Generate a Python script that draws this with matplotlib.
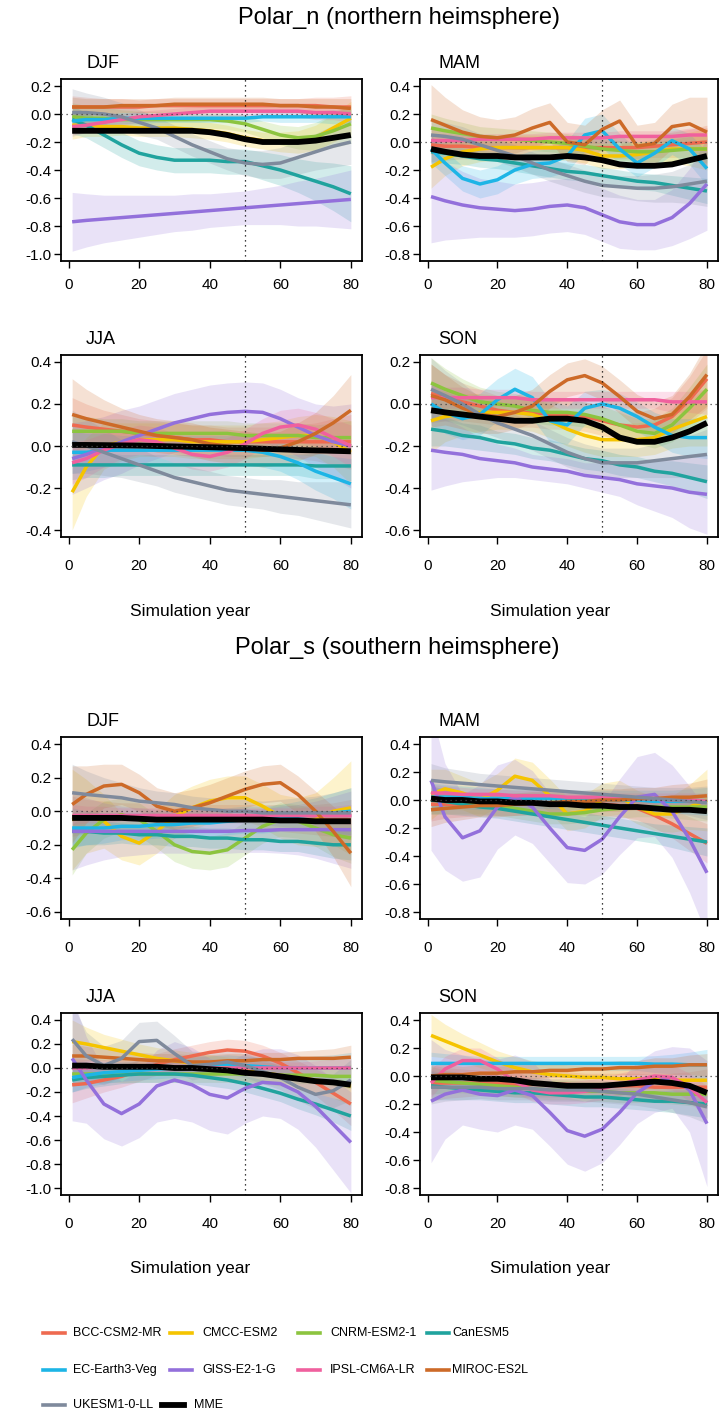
import matplotlib
matplotlib.use("Agg")
import matplotlib.pyplot as plt
from matplotlib.lines import Line2D
import numpy as np

plt.rcParams['font.family'] = ['Liberation Sans', 'DejaVu Sans']

W, H = 719, 1417

years = [1, 5, 10, 15, 20, 25, 30, 35, 40, 45, 50, 55, 60, 65, 70, 75, 80]
models = ["BCC-CSM2-MR", "CMCC-ESM2", "CNRM-ESM2-1", "CanESM5", "EC-Earth3-Veg",
          "GISS-E2-1-G", "IPSL-CM6A-LR", "MIROC-ES2L", "UKESM1-0-LL", "MME"]
colors = ["#EE6A50", "#F5C400", "#8CC43F", "#20A39E", "#1DB5E6",
          "#9370DB", "#F0609E", "#CD6A28", "#7F8A9C", "#000000"]
seasons = ["DJF", "MAM", "JJA", "SON"]
xticks = [0, 20, 40, 60, 80]

# ---------------- Polar_n ----------------
n_djf_mean = {
    "BCC-CSM2-MR": [0.05,0.05,0.05,0.05,0.05,0.06,0.06,0.06,0.06,0.06,0.06,0.06,0.06,0.06,0.06,0.05,0.05],
    "CMCC-ESM2": [-0.08,-0.08,-0.09,-0.09,-0.10,-0.10,-0.10,-0.11,-0.12,-0.14,-0.17,-0.19,-0.20,-0.20,-0.17,-0.10,-0.03],
    "CNRM-ESM2-1": [-0.02,-0.03,-0.03,-0.04,-0.04,-0.04,-0.04,-0.04,-0.04,-0.05,-0.07,-0.11,-0.15,-0.17,-0.16,-0.12,-0.07],
    "CanESM5": [-0.04,-0.08,-0.15,-0.22,-0.28,-0.31,-0.33,-0.33,-0.33,-0.34,-0.34,-0.37,-0.40,-0.44,-0.48,-0.52,-0.57],
    "EC-Earth3-Veg": [-0.05,-0.04,-0.04,-0.03,-0.03,-0.03,-0.03,-0.03,-0.03,-0.03,-0.03,-0.02,-0.02,-0.02,-0.02,-0.02,-0.02],
    "GISS-E2-1-G": [-0.77,-0.76,-0.75,-0.74,-0.73,-0.72,-0.71,-0.70,-0.69,-0.68,-0.67,-0.66,-0.65,-0.64,-0.63,-0.62,-0.61],
    "IPSL-CM6A-LR": [-0.09,-0.08,-0.06,-0.04,-0.02,-0.01,0.00,0.01,0.02,0.02,0.02,0.02,0.02,0.02,0.01,0.01,0.00],
    "MIROC-ES2L": [0.05,0.05,0.05,0.06,0.06,0.06,0.07,0.07,0.07,0.07,0.07,0.07,0.06,0.06,0.05,0.05,0.04],
    "UKESM1-0-LL": [0.01,0.01,0.00,-0.02,-0.06,-0.10,-0.16,-0.22,-0.27,-0.32,-0.35,-0.36,-0.35,-0.31,-0.27,-0.23,-0.20],
    "MME": [-0.12,-0.12,-0.12,-0.12,-0.12,-0.12,-0.12,-0.12,-0.13,-0.15,-0.18,-0.20,-0.20,-0.20,-0.19,-0.17,-0.15],
}
n_djf_hw = {
    "BCC-CSM2-MR": [0.08,0.07,0.06,0.06,0.05,0.05,0.05,0.05,0.05,0.05,0.05,0.05,0.05,0.05,0.06,0.07,0.08],
    "CMCC-ESM2": [0.10,0.08,0.07,0.06,0.06,0.06,0.06,0.06,0.06,0.06,0.06,0.06,0.07,0.08,0.09,0.10,0.12],
    "CNRM-ESM2-1": [0.10,0.09,0.08,0.07,0.06,0.06,0.06,0.06,0.06,0.06,0.06,0.06,0.07,0.08,0.10,0.12,0.14],
    "CanESM5": [0.10,0.09,0.09,0.09,0.09,0.09,0.09,0.09,0.09,0.09,0.09,0.10,0.11,0.12,0.14,0.17,0.20],
    "EC-Earth3-Veg": [0.05,0.04,0.04,0.04,0.04,0.03,0.03,0.03,0.03,0.03,0.03,0.03,0.04,0.04,0.04,0.05,0.05],
    "GISS-E2-1-G": [0.21,0.19,0.17,0.16,0.15,0.14,0.13,0.13,0.12,0.12,0.12,0.13,0.14,0.16,0.17,0.19,0.21],
    "IPSL-CM6A-LR": [0.06,0.05,0.05,0.04,0.04,0.04,0.04,0.04,0.04,0.04,0.04,0.04,0.04,0.04,0.05,0.05,0.06],
    "MIROC-ES2L": [0.07,0.06,0.06,0.05,0.05,0.05,0.05,0.05,0.05,0.05,0.05,0.05,0.05,0.05,0.06,0.06,0.07],
    "UKESM1-0-LL": [0.17,0.14,0.12,0.10,0.09,0.08,0.08,0.08,0.08,0.08,0.09,0.10,0.11,0.12,0.13,0.15,0.16],
}

n_mam_mean = {
    "BCC-CSM2-MR": [-0.02,-0.03,-0.03,-0.04,-0.04,-0.04,-0.04,-0.04,-0.04,-0.04,-0.04,-0.04,-0.04,-0.03,-0.02,-0.01,0.00],
    "CMCC-ESM2": [-0.18,-0.12,-0.07,-0.05,-0.04,-0.04,-0.04,-0.04,-0.04,-0.06,-0.10,-0.10,-0.09,-0.07,-0.05,-0.05,-0.05],
    "CNRM-ESM2-1": [0.10,0.08,0.06,0.04,0.03,0.02,0.01,0.00,-0.01,-0.03,-0.05,-0.06,-0.07,-0.07,-0.06,-0.05,-0.05],
    "CanESM5": [-0.07,-0.08,-0.10,-0.12,-0.13,-0.15,-0.17,-0.19,-0.21,-0.22,-0.24,-0.26,-0.28,-0.29,-0.31,-0.33,-0.35],
    "EC-Earth3-Veg": [-0.05,-0.15,-0.26,-0.30,-0.27,-0.20,-0.16,-0.15,-0.10,0.05,0.08,-0.05,-0.15,-0.08,0.01,-0.05,-0.19],
    "GISS-E2-1-G": [-0.39,-0.42,-0.45,-0.47,-0.48,-0.49,-0.48,-0.46,-0.45,-0.47,-0.52,-0.57,-0.59,-0.59,-0.54,-0.44,-0.30],
    "IPSL-CM6A-LR": [0.01,0.01,0.01,0.02,0.02,0.02,0.02,0.03,0.03,0.03,0.03,0.04,0.04,0.04,0.04,0.05,0.05],
    "MIROC-ES2L": [0.16,0.12,0.07,0.04,0.03,0.05,0.10,0.14,0.00,-0.02,0.09,0.15,-0.03,-0.01,0.11,0.13,0.07],
    "UKESM1-0-LL": [0.05,0.04,0.02,-0.02,-0.06,-0.10,-0.15,-0.20,-0.24,-0.28,-0.31,-0.32,-0.33,-0.33,-0.32,-0.30,-0.28],
    "MME": [-0.05,-0.07,-0.09,-0.10,-0.10,-0.11,-0.11,-0.11,-0.10,-0.11,-0.13,-0.16,-0.17,-0.17,-0.16,-0.13,-0.10],
}
n_mam_hw = {
    "BCC-CSM2-MR": [0.12,0.10,0.09,0.08,0.08,0.08,0.08,0.08,0.08,0.08,0.08,0.08,0.08,0.08,0.09,0.10,0.12],
    "CMCC-ESM2": [0.15,0.12,0.10,0.09,0.09,0.09,0.09,0.09,0.09,0.09,0.09,0.09,0.09,0.09,0.10,0.12,0.15],
    "CNRM-ESM2-1": [0.10,0.09,0.08,0.07,0.07,0.07,0.07,0.07,0.07,0.07,0.07,0.07,0.07,0.07,0.08,0.09,0.10],
    "CanESM5": [0.08,0.07,0.06,0.06,0.06,0.06,0.06,0.06,0.06,0.06,0.06,0.06,0.06,0.06,0.07,0.08,0.09],
    "EC-Earth3-Veg": [0.10,0.09,0.09,0.10,0.10,0.10,0.10,0.10,0.11,0.12,0.12,0.11,0.10,0.10,0.10,0.11,0.12],
    "GISS-E2-1-G": [0.33,0.28,0.24,0.21,0.20,0.19,0.19,0.19,0.19,0.19,0.19,0.19,0.18,0.18,0.20,0.25,0.33],
    "IPSL-CM6A-LR": [0.05,0.05,0.04,0.04,0.04,0.04,0.04,0.04,0.04,0.04,0.04,0.04,0.04,0.04,0.04,0.05,0.05],
    "MIROC-ES2L": [0.25,0.20,0.16,0.14,0.13,0.13,0.14,0.14,0.14,0.14,0.14,0.15,0.15,0.15,0.16,0.19,0.25],
    "UKESM1-0-LL": [0.12,0.10,0.09,0.08,0.08,0.08,0.08,0.08,0.08,0.08,0.08,0.08,0.09,0.10,0.11,0.14,0.18],
}

n_jja_mean = {
    "BCC-CSM2-MR": [0.10,0.09,0.08,0.07,0.06,0.05,0.04,0.03,0.03,0.02,0.02,0.02,0.02,0.02,0.02,0.02,0.02],
    "CMCC-ESM2": [-0.22,-0.10,0.00,0.02,0.03,0.03,0.03,0.02,0.02,0.02,0.02,0.03,0.04,0.05,0.05,0.02,-0.03],
    "CNRM-ESM2-1": [0.07,0.07,0.07,0.07,0.06,0.06,0.06,0.06,0.06,0.06,0.05,0.05,0.05,0.05,0.04,0.04,0.04],
    "CanESM5": [-0.09,-0.09,-0.09,-0.09,-0.09,-0.09,-0.09,-0.09,-0.09,-0.09,-0.09,-0.09,-0.09,-0.09,-0.095,-0.095,-0.095],
    "EC-Earth3-Veg": [-0.03,-0.03,-0.02,-0.02,-0.02,-0.02,-0.02,-0.02,-0.02,-0.02,-0.02,-0.03,-0.05,-0.08,-0.12,-0.15,-0.18],
    "GISS-E2-1-G": [-0.06,-0.04,-0.01,0.02,0.05,0.08,0.11,0.13,0.15,0.16,0.165,0.16,0.13,0.09,0.05,0.02,0.00],
    "IPSL-CM6A-LR": [-0.08,-0.06,-0.02,0.01,0.03,0.02,-0.01,-0.04,-0.05,-0.03,0.01,0.06,0.09,0.10,0.08,0.04,0.00],
    "MIROC-ES2L": [0.15,0.13,0.11,0.09,0.07,0.05,0.04,0.03,0.01,0.00,-0.01,-0.02,-0.01,0.02,0.06,0.11,0.17],
    "UKESM1-0-LL": [0.02,0.00,-0.03,-0.06,-0.09,-0.12,-0.15,-0.17,-0.19,-0.21,-0.22,-0.23,-0.24,-0.25,-0.26,-0.27,-0.28],
    "MME": [0.005,0.005,0.004,0.003,0.002,0.0,-0.002,-0.004,-0.006,-0.008,-0.01,-0.013,-0.016,-0.019,-0.021,-0.023,-0.025],
}
n_jja_hw = {
    "BCC-CSM2-MR": [0.13,0.11,0.09,0.08,0.07,0.07,0.07,0.07,0.07,0.07,0.07,0.07,0.07,0.08,0.09,0.11,0.13],
    "CMCC-ESM2": [0.18,0.14,0.11,0.09,0.08,0.08,0.08,0.08,0.08,0.08,0.08,0.08,0.08,0.09,0.10,0.12,0.15],
    "CNRM-ESM2-1": [0.08,0.07,0.06,0.06,0.06,0.06,0.06,0.06,0.06,0.06,0.06,0.06,0.06,0.06,0.06,0.07,0.08],
    "CanESM5": [0.07,0.06,0.06,0.05,0.05,0.05,0.05,0.05,0.05,0.05,0.05,0.05,0.05,0.05,0.06,0.06,0.07],
    "EC-Earth3-Veg": [0.10,0.09,0.08,0.07,0.07,0.07,0.07,0.07,0.07,0.07,0.07,0.07,0.07,0.08,0.09,0.10,0.12],
    "GISS-E2-1-G": [0.17,0.16,0.15,0.15,0.14,0.14,0.14,0.14,0.14,0.14,0.14,0.14,0.14,0.14,0.15,0.17,0.20],
    "IPSL-CM6A-LR": [0.10,0.09,0.08,0.07,0.07,0.07,0.07,0.07,0.07,0.07,0.07,0.07,0.08,0.08,0.08,0.09,0.10],
    "MIROC-ES2L": [0.17,0.14,0.11,0.09,0.08,0.08,0.08,0.08,0.08,0.08,0.08,0.08,0.08,0.09,0.10,0.13,0.17],
    "UKESM1-0-LL": [0.15,0.13,0.11,0.09,0.08,0.07,0.07,0.07,0.07,0.07,0.07,0.07,0.08,0.08,0.09,0.10,0.11],
}

n_son_mean = {
    "BCC-CSM2-MR": [0.05,0.03,0.01,-0.01,-0.03,-0.04,-0.04,-0.05,-0.05,-0.06,-0.08,-0.10,-0.11,-0.10,-0.06,0.02,0.12],
    "CMCC-ESM2": [-0.08,-0.06,-0.05,-0.04,-0.04,-0.04,-0.05,-0.08,-0.12,-0.15,-0.17,-0.17,-0.17,-0.16,-0.12,-0.09,-0.06],
    "CNRM-ESM2-1": [0.10,0.07,0.04,0.01,0.00,-0.01,-0.03,-0.04,-0.04,-0.05,-0.07,-0.10,-0.13,-0.14,-0.10,-0.02,0.07],
    "CanESM5": [-0.12,-0.13,-0.15,-0.16,-0.18,-0.19,-0.21,-0.22,-0.24,-0.26,-0.27,-0.29,-0.30,-0.32,-0.33,-0.35,-0.37],
    "EC-Earth3-Veg": [0.00,-0.04,-0.07,-0.05,0.02,0.07,0.03,-0.08,-0.10,-0.02,0.00,-0.02,-0.06,-0.11,-0.15,-0.16,-0.16],
    "GISS-E2-1-G": [-0.22,-0.23,-0.24,-0.26,-0.27,-0.28,-0.30,-0.31,-0.32,-0.34,-0.35,-0.36,-0.38,-0.39,-0.40,-0.42,-0.43],
    "IPSL-CM6A-LR": [0.03,0.03,0.03,0.03,0.03,0.03,0.02,0.02,0.02,0.02,0.02,0.02,0.02,0.02,0.01,0.01,0.01],
    "MIROC-ES2L": [0.04,0.02,-0.02,-0.05,-0.06,-0.04,-0.01,0.06,0.115,0.135,0.10,0.035,-0.035,-0.07,-0.05,0.035,0.14],
    "UKESM1-0-LL": [0.07,0.04,0.00,-0.05,-0.09,-0.12,-0.15,-0.19,-0.23,-0.26,-0.28,-0.28,-0.28,-0.27,-0.26,-0.25,-0.24],
    "MME": [-0.03,-0.04,-0.05,-0.06,-0.07,-0.08,-0.08,-0.07,-0.07,-0.08,-0.11,-0.16,-0.18,-0.18,-0.16,-0.13,-0.09],
}
n_son_hw = {
    "BCC-CSM2-MR": [0.14,0.11,0.09,0.08,0.07,0.07,0.07,0.07,0.07,0.07,0.07,0.07,0.07,0.08,0.09,0.11,0.14],
    "CMCC-ESM2": [0.15,0.12,0.10,0.09,0.08,0.08,0.08,0.08,0.08,0.08,0.08,0.08,0.08,0.08,0.09,0.11,0.14],
    "CNRM-ESM2-1": [0.12,0.10,0.08,0.07,0.06,0.06,0.06,0.06,0.06,0.06,0.06,0.06,0.06,0.07,0.08,0.10,0.12],
    "CanESM5": [0.08,0.07,0.06,0.06,0.05,0.05,0.05,0.05,0.05,0.05,0.05,0.05,0.05,0.05,0.06,0.07,0.08],
    "EC-Earth3-Veg": [0.10,0.10,0.10,0.10,0.10,0.10,0.10,0.10,0.09,0.08,0.07,0.07,0.07,0.07,0.08,0.09,0.10],
    "GISS-E2-1-G": [0.19,0.16,0.13,0.10,0.08,0.07,0.06,0.06,0.06,0.06,0.07,0.08,0.10,0.12,0.14,0.17,0.19],
    "IPSL-CM6A-LR": [0.06,0.05,0.05,0.04,0.04,0.04,0.04,0.04,0.04,0.04,0.04,0.04,0.04,0.04,0.05,0.05,0.06],
    "MIROC-ES2L": [0.15,0.12,0.10,0.09,0.08,0.08,0.08,0.08,0.08,0.08,0.08,0.08,0.08,0.08,0.09,0.11,0.15],
    "UKESM1-0-LL": [0.15,0.12,0.10,0.08,0.07,0.07,0.07,0.07,0.07,0.07,0.07,0.07,0.07,0.08,0.09,0.10,0.12],
}

# ---------------- Polar_s ----------------
s_djf_mean = {
    "BCC-CSM2-MR": [-0.03,-0.03,-0.03,-0.03,-0.03,-0.04,-0.04,-0.04,-0.04,-0.04,-0.04,-0.04,-0.04,-0.05,-0.05,-0.05,-0.05],
    "CMCC-ESM2": [-0.05,-0.03,-0.06,-0.15,-0.19,-0.12,-0.03,0.02,0.06,0.08,0.08,0.03,-0.03,-0.06,-0.05,0.00,0.02],
    "CNRM-ESM2-1": [-0.23,-0.13,-0.05,-0.02,-0.05,-0.12,-0.20,-0.24,-0.25,-0.23,-0.16,-0.09,-0.05,-0.06,-0.10,-0.14,-0.16],
    "CanESM5": [-0.12,-0.12,-0.13,-0.13,-0.14,-0.14,-0.15,-0.15,-0.16,-0.16,-0.17,-0.17,-0.18,-0.18,-0.19,-0.20,-0.20],
    "EC-Earth3-Veg": [-0.10,-0.10,-0.10,-0.09,-0.09,-0.08,-0.08,-0.07,-0.07,-0.06,-0.05,-0.05,-0.04,-0.03,-0.02,-0.01,0.00],
    "GISS-E2-1-G": [-0.12,-0.12,-0.12,-0.12,-0.12,-0.12,-0.12,-0.12,-0.12,-0.12,-0.115,-0.115,-0.11,-0.11,-0.11,-0.11,-0.11],
    "IPSL-CM6A-LR": [-0.02,-0.02,-0.02,-0.02,-0.02,-0.02,-0.02,-0.02,-0.02,-0.02,-0.02,-0.02,-0.02,-0.02,-0.02,-0.02,-0.02],
    "MIROC-ES2L": [0.04,0.10,0.15,0.16,0.11,0.03,0.00,0.02,0.05,0.09,0.13,0.16,0.17,0.10,0.00,-0.12,-0.25],
    "UKESM1-0-LL": [0.11,0.10,0.09,0.08,0.06,0.05,0.04,0.02,0.01,0.00,0.00,-0.01,-0.01,-0.01,-0.01,-0.01,-0.01],
    "MME": [-0.04,-0.04,-0.04,-0.04,-0.045,-0.05,-0.05,-0.05,-0.05,-0.05,-0.05,-0.05,-0.055,-0.055,-0.06,-0.06,-0.06],
}
s_djf_hw = {
    "BCC-CSM2-MR": [0.12,0.10,0.09,0.08,0.08,0.08,0.08,0.08,0.08,0.08,0.08,0.08,0.08,0.08,0.09,0.10,0.12],
    "CMCC-ESM2": [0.30,0.22,0.16,0.14,0.13,0.13,0.13,0.13,0.13,0.13,0.13,0.13,0.13,0.14,0.16,0.20,0.28],
    "CNRM-ESM2-1": [0.15,0.12,0.11,0.10,0.10,0.10,0.10,0.10,0.10,0.10,0.10,0.10,0.10,0.10,0.11,0.13,0.15],
    "CanESM5": [0.09,0.08,0.07,0.06,0.06,0.06,0.06,0.06,0.06,0.06,0.06,0.06,0.06,0.06,0.07,0.08,0.09],
    "EC-Earth3-Veg": [0.12,0.10,0.09,0.08,0.08,0.08,0.08,0.08,0.08,0.08,0.08,0.08,0.08,0.09,0.10,0.12,0.14],
    "GISS-E2-1-G": [0.23,0.20,0.17,0.15,0.14,0.13,0.13,0.13,0.13,0.13,0.13,0.13,0.14,0.15,0.17,0.20,0.23],
    "IPSL-CM6A-LR": [0.06,0.05,0.05,0.04,0.04,0.04,0.04,0.04,0.04,0.04,0.04,0.04,0.04,0.04,0.05,0.05,0.06],
    "MIROC-ES2L": [0.23,0.17,0.13,0.12,0.11,0.11,0.11,0.11,0.11,0.11,0.11,0.11,0.11,0.11,0.12,0.15,0.20],
    "UKESM1-0-LL": [0.17,0.14,0.11,0.09,0.08,0.07,0.07,0.07,0.07,0.07,0.07,0.07,0.08,0.09,0.10,0.12,0.15],
}

s_mam_mean = {
    "BCC-CSM2-MR": [-0.03,-0.03,-0.03,-0.03,-0.03,-0.03,-0.03,-0.03,-0.03,-0.03,-0.03,-0.04,-0.06,-0.11,-0.17,-0.24,-0.31],
    "CMCC-ESM2": [0.04,0.08,0.05,0.00,0.07,0.17,0.14,0.03,-0.10,-0.08,0.00,0.02,-0.05,-0.10,-0.10,-0.05,0.00],
    "CNRM-ESM2-1": [0.00,-0.01,-0.02,-0.03,-0.04,-0.06,-0.08,-0.10,-0.10,-0.09,-0.07,-0.06,-0.05,-0.05,-0.05,-0.05,-0.05],
    "CanESM5": [0.00,-0.01,-0.03,-0.05,-0.06,-0.08,-0.10,-0.12,-0.14,-0.16,-0.18,-0.20,-0.22,-0.24,-0.26,-0.28,-0.30],
    "EC-Earth3-Veg": [0.02,0.02,0.02,0.01,0.01,0.01,0.01,0.01,0.00,0.00,0.00,0.00,0.00,-0.01,-0.01,-0.01,-0.01],
    "GISS-E2-1-G": [0.14,-0.12,-0.27,-0.22,-0.05,0.02,-0.05,-0.20,-0.34,-0.36,-0.28,-0.12,0.02,0.04,-0.08,-0.28,-0.52],
    "IPSL-CM6A-LR": [0.05,0.05,0.04,0.04,0.04,0.03,0.03,0.03,0.02,0.02,0.02,0.01,0.01,0.01,0.00,0.00,-0.01],
    "MIROC-ES2L": [-0.07,-0.06,-0.05,-0.04,-0.04,-0.03,-0.02,-0.02,-0.01,-0.01,0.00,0.00,0.01,0.01,0.02,0.02,0.03],
    "UKESM1-0-LL": [0.14,0.13,0.12,0.11,0.10,0.09,0.08,0.07,0.06,0.05,0.04,0.03,0.02,0.01,0.00,-0.01,-0.02],
    "MME": [0.01,0.00,0.00,-0.01,-0.01,-0.02,-0.02,-0.03,-0.03,-0.04,-0.04,-0.05,-0.05,-0.06,-0.07,-0.07,-0.08],
}
s_mam_hw = {
    "BCC-CSM2-MR": [0.12,0.10,0.09,0.08,0.08,0.08,0.08,0.08,0.08,0.08,0.08,0.08,0.08,0.09,0.10,0.12,0.14],
    "CMCC-ESM2": [0.18,0.14,0.12,0.12,0.12,0.13,0.13,0.12,0.12,0.12,0.12,0.12,0.12,0.12,0.13,0.16,0.22],
    "CNRM-ESM2-1": [0.10,0.09,0.08,0.07,0.07,0.07,0.07,0.07,0.07,0.07,0.07,0.07,0.07,0.07,0.08,0.09,0.10],
    "CanESM5": [0.10,0.09,0.08,0.07,0.07,0.07,0.07,0.07,0.07,0.07,0.07,0.07,0.07,0.07,0.08,0.09,0.10],
    "EC-Earth3-Veg": [0.10,0.09,0.08,0.08,0.07,0.07,0.07,0.07,0.07,0.07,0.07,0.07,0.07,0.08,0.08,0.09,0.10],
    "GISS-E2-1-G": [0.50,0.38,0.31,0.33,0.30,0.27,0.26,0.25,0.25,0.24,0.25,0.27,0.29,0.30,0.33,0.38,0.45],
    "IPSL-CM6A-LR": [0.06,0.05,0.05,0.04,0.04,0.04,0.04,0.04,0.04,0.04,0.04,0.04,0.04,0.04,0.05,0.05,0.06],
    "MIROC-ES2L": [0.12,0.10,0.09,0.08,0.08,0.08,0.08,0.08,0.08,0.08,0.08,0.08,0.08,0.08,0.09,0.10,0.12],
    "UKESM1-0-LL": [0.12,0.10,0.09,0.08,0.08,0.08,0.08,0.08,0.08,0.08,0.08,0.08,0.08,0.08,0.09,0.10,0.12],
}

s_jja_mean = {
    "BCC-CSM2-MR": [-0.14,-0.13,-0.10,-0.07,-0.02,0.03,0.07,0.10,0.13,0.15,0.14,0.10,0.04,-0.04,-0.12,-0.21,-0.30],
    "CMCC-ESM2": [0.22,0.20,0.17,0.14,0.11,0.08,0.06,0.04,0.02,0.00,-0.02,-0.04,-0.06,-0.08,-0.10,-0.12,-0.15],
    "CNRM-ESM2-1": [-0.05,-0.05,-0.05,-0.05,-0.05,-0.05,-0.05,-0.05,-0.05,-0.05,-0.05,-0.05,-0.06,-0.06,-0.06,-0.07,-0.07],
    "CanESM5": [-0.10,-0.08,-0.07,-0.06,-0.05,-0.05,-0.05,-0.06,-0.08,-0.10,-0.13,-0.17,-0.21,-0.26,-0.30,-0.35,-0.40],
    "EC-Earth3-Veg": [-0.08,-0.06,-0.04,-0.03,-0.02,-0.01,0.00,0.01,0.02,0.03,0.02,0.01,0.00,0.00,0.00,0.00,0.00],
    "GISS-E2-1-G": [0.08,-0.10,-0.30,-0.38,-0.30,-0.15,-0.10,-0.14,-0.22,-0.25,-0.17,-0.12,-0.13,-0.20,-0.32,-0.47,-0.62],
    "IPSL-CM6A-LR": [0.00,0.00,0.01,0.01,0.01,0.01,0.01,0.00,0.00,0.00,0.00,0.00,0.00,0.00,0.00,0.00,0.00],
    "MIROC-ES2L": [0.10,0.10,0.09,0.08,0.07,0.06,0.06,0.05,0.05,0.06,0.06,0.07,0.07,0.08,0.08,0.08,0.09],
    "UKESM1-0-LL": [0.24,0.10,0.02,0.08,0.22,0.23,0.12,0.02,0.03,0.05,0.02,-0.03,-0.08,-0.16,-0.22,-0.19,-0.10],
    "MME": [0.02,0.02,0.01,0.01,0.01,0.01,0.00,0.00,-0.01,-0.02,-0.04,-0.05,-0.07,-0.09,-0.11,-0.12,-0.14],
}
s_jja_hw = {
    "BCC-CSM2-MR": [0.15,0.12,0.10,0.09,0.09,0.09,0.09,0.09,0.09,0.09,0.09,0.09,0.09,0.10,0.11,0.14,0.18],
    "CMCC-ESM2": [0.18,0.14,0.11,0.10,0.09,0.09,0.09,0.09,0.09,0.09,0.09,0.09,0.09,0.10,0.11,0.13,0.16],
    "CNRM-ESM2-1": [0.10,0.08,0.07,0.07,0.07,0.07,0.07,0.07,0.07,0.07,0.07,0.07,0.07,0.07,0.07,0.08,0.10],
    "CanESM5": [0.10,0.09,0.08,0.07,0.07,0.07,0.07,0.07,0.07,0.07,0.07,0.07,0.07,0.08,0.09,0.10,0.12],
    "EC-Earth3-Veg": [0.12,0.10,0.09,0.08,0.08,0.08,0.08,0.08,0.08,0.08,0.08,0.08,0.08,0.09,0.10,0.11,0.13],
    "GISS-E2-1-G": [0.52,0.36,0.29,0.27,0.28,0.30,0.32,0.31,0.30,0.30,0.29,0.28,0.29,0.31,0.34,0.38,0.42],
    "IPSL-CM6A-LR": [0.08,0.07,0.06,0.06,0.05,0.05,0.05,0.05,0.05,0.05,0.05,0.05,0.05,0.05,0.06,0.07,0.08],
    "MIROC-ES2L": [0.10,0.08,0.07,0.06,0.06,0.06,0.06,0.06,0.06,0.06,0.06,0.06,0.06,0.06,0.07,0.08,0.10],
    "UKESM1-0-LL": [0.30,0.20,0.16,0.15,0.16,0.16,0.15,0.12,0.10,0.10,0.10,0.10,0.10,0.11,0.12,0.14,0.17],
}

s_son_mean = {
    "BCC-CSM2-MR": [-0.05,-0.05,-0.05,-0.05,-0.05,-0.06,-0.06,-0.06,-0.06,-0.07,-0.07,-0.07,-0.07,-0.08,-0.08,-0.08,-0.08],
    "CMCC-ESM2": [0.29,0.25,0.20,0.15,0.10,0.06,0.03,0.01,0.00,-0.01,-0.01,-0.02,-0.02,-0.02,-0.03,-0.03,-0.03],
    "CNRM-ESM2-1": [-0.03,-0.04,-0.05,-0.06,-0.07,-0.08,-0.09,-0.10,-0.10,-0.11,-0.11,-0.12,-0.12,-0.12,-0.13,-0.13,-0.13],
    "CanESM5": [-0.07,-0.08,-0.09,-0.10,-0.11,-0.12,-0.12,-0.13,-0.14,-0.15,-0.15,-0.16,-0.17,-0.18,-0.18,-0.19,-0.20],
    "EC-Earth3-Veg": [0.09,0.09,0.09,0.09,0.09,0.09,0.09,0.09,0.09,0.09,0.09,0.09,0.09,0.085,0.085,0.08,0.08],
    "GISS-E2-1-G": [-0.18,-0.13,-0.10,-0.13,-0.14,-0.10,-0.14,-0.26,-0.39,-0.43,-0.38,-0.26,-0.12,-0.04,-0.01,-0.10,-0.34],
    "IPSL-CM6A-LR": [-0.05,0.05,0.11,0.11,0.05,-0.04,-0.10,-0.12,-0.12,-0.11,-0.09,-0.06,-0.03,0.00,-0.01,-0.08,-0.19],
    "MIROC-ES2L": [0.00,0.01,0.01,0.02,0.02,0.03,0.03,0.04,0.04,0.05,0.05,0.06,0.06,0.07,0.07,0.08,0.08],
    "UKESM1-0-LL": [-0.08,-0.08,-0.08,-0.08,-0.09,-0.09,-0.09,-0.10,-0.10,-0.10,-0.11,-0.12,-0.13,-0.15,-0.17,-0.19,-0.22],
    "MME": [-0.01,-0.01,-0.01,-0.02,-0.02,-0.03,-0.05,-0.06,-0.07,-0.07,-0.07,-0.06,-0.05,-0.04,-0.05,-0.07,-0.12],
}
s_son_hw = {
    "BCC-CSM2-MR": [0.13,0.11,0.10,0.09,0.09,0.09,0.09,0.09,0.09,0.09,0.09,0.09,0.09,0.09,0.10,0.11,0.13],
    "CMCC-ESM2": [0.15,0.12,0.10,0.09,0.08,0.08,0.08,0.08,0.08,0.08,0.08,0.08,0.08,0.08,0.09,0.10,0.12],
    "CNRM-ESM2-1": [0.10,0.08,0.07,0.07,0.07,0.07,0.07,0.07,0.07,0.07,0.07,0.07,0.07,0.07,0.07,0.08,0.10],
    "CanESM5": [0.10,0.09,0.08,0.07,0.07,0.07,0.07,0.07,0.07,0.07,0.07,0.07,0.07,0.07,0.08,0.09,0.10],
    "EC-Earth3-Veg": [0.08,0.07,0.06,0.05,0.05,0.05,0.05,0.05,0.05,0.05,0.05,0.05,0.05,0.06,0.07,0.09,0.11],
    "GISS-E2-1-G": [0.44,0.32,0.25,0.25,0.26,0.25,0.24,0.24,0.24,0.25,0.24,0.23,0.22,0.22,0.22,0.30,0.45],
    "IPSL-CM6A-LR": [0.10,0.09,0.09,0.09,0.08,0.08,0.08,0.08,0.08,0.08,0.08,0.08,0.08,0.08,0.09,0.10,0.12],
    "MIROC-ES2L": [0.08,0.07,0.06,0.06,0.05,0.05,0.05,0.05,0.05,0.05,0.05,0.05,0.05,0.06,0.06,0.07,0.08],
    "UKESM1-0-LL": [0.12,0.10,0.09,0.08,0.08,0.08,0.08,0.08,0.08,0.08,0.08,0.08,0.08,0.08,0.09,0.10,0.12],
}

# y-axis settings per panel: (ylim, yticks)
n_yaxes = [((-1.05, 0.25), [-1.0, -0.8, -0.6, -0.4, -0.2, 0.0, 0.2]),
           ((-0.85, 0.45), [-0.8, -0.6, -0.4, -0.2, 0.0, 0.2, 0.4]),
           ((-0.433, 0.433), [-0.4, -0.2, 0.0, 0.2, 0.4]),
           ((-0.633, 0.233), [-0.6, -0.4, -0.2, 0.0, 0.2])]
s_yaxes = [((-0.642, 0.442), [-0.6, -0.4, -0.2, 0.0, 0.2, 0.4]),
           ((-0.85, 0.45), [-0.8, -0.6, -0.4, -0.2, 0.0, 0.2, 0.4]),
           ((-1.058, 0.458), [-1.0, -0.8, -0.6, -0.4, -0.2, 0.0, 0.2, 0.4]),
           ((-0.85, 0.45), [-0.8, -0.6, -0.4, -0.2, 0.0, 0.2, 0.4])]

panels = [
    (n_djf_mean, n_djf_hw), (n_mam_mean, n_mam_hw), (n_jja_mean, n_jja_hw), (n_son_mean, n_son_hw),
    (s_djf_mean, s_djf_hw), (s_mam_mean, s_mam_hw), (s_jja_mean, s_jja_hw), (s_son_mean, s_son_hw),
]
yaxes = n_yaxes + s_yaxes

fig = plt.figure(figsize=(W / 100, H / 100), dpi=100)
fig.patch.set_facecolor("white")

col_left = [61, 420]
col_width = [301, 298]
row_top = [79, 355, 737, 1013]
ax_h = 182
xpad = [7.5, 11.0, 11.0, 11.0]

def px2fig(x, y):
    return x / W, 1 - y / H

for i, ((mean, hw), (ylim, yt)) in enumerate(zip(panels, yaxes)):
    r, c = divmod(i, 2)
    left, top = col_left[c], row_top[r]
    ax = fig.add_axes([left / W, 1 - (top + ax_h) / H, col_width[c] / W, ax_h / H])
    x = np.array(years)
    for m, col in zip(models[:-1], colors[:-1]):
        y = np.array(mean[m])
        h = np.array(hw[m])
        ax.fill_between(x, y - h, y + h, color=col, alpha=0.2, lw=0, zorder=1)
    for m, col in zip(models[:-1], colors[:-1]):
        ax.plot(x, mean[m], color=col, lw=2.5, solid_capstyle='butt',
                solid_joinstyle='round', zorder=2)
    ax.plot(x, mean["MME"], color="black", lw=4.2, solid_capstyle='butt',
            solid_joinstyle='round', zorder=3)
    ax.axhline(0, color="#444444", ls=(0, (1, 3)), lw=0.9, zorder=5)
    ax.axvline(50, color="black", ls=(0, (1, 3)), lw=0.9, zorder=5)
    ax.set_xlim(-2.16, 83.16)
    ax.set_ylim(*ylim)
    ax.set_xticks(xticks)
    ax.set_yticks(yt)
    ax.set_yticklabels(["%.1f" % v for v in yt])
    ax.tick_params(axis='both', direction='out', length=5, width=1.0, labelsize=11,
                   color='black')
    ax.tick_params(axis='y', pad=1.5)
    ax.tick_params(axis='x', pad=xpad[r])
    for sp in ax.spines.values():
        sp.set_linewidth(1.3)
    tx = 86 if c == 0 else 438
    fx, fy = px2fig(tx, top - 16)
    fig.text(fx, fy, seasons[(i % 4)], fontsize=13, ha='left', va='center')

# section titles
fx, fy = px2fig(399, 18)
fig.text(fx, fy, "Polar_n (northern heimsphere)", fontsize=17, ha='center', va='center')
fx, fy = px2fig(397, 648)
fig.text(fx, fy, "Polar_s (southern heimsphere)", fontsize=17, ha='center', va='center')

# x labels
for yy in (611, 1268):
    for xx in (190, 550):
        fx, fy = px2fig(xx, yy)
        fig.text(fx, fy, "Simulation year", fontsize=12.5, ha='center', va='center')

# legend
leg_rows = [1333, 1370, 1405]
leg_handle_x = [43, 170, 298, 427]
leg_text_x = [73, 202, 330, 452]
for k, (m, col) in enumerate(zip(models, colors)):
    if k < 8:
        rr, cc = divmod(k, 4)
        hx, tx = leg_handle_x[cc], leg_text_x[cc]
    else:
        rr = 2
        hx, tx = ([43, 162][k - 8], [73, 194][k - 8])
    yy = leg_rows[rr]
    x0, y0 = px2fig(hx, yy)
    x1, _ = px2fig(hx + 22, yy)
    fig.add_artist(Line2D([x0, x1], [y0, y0], color=col,
                          lw=4.2 if m == "MME" else 2.6, transform=fig.transFigure))
    fx, fy = px2fig(tx, yy)
    fig.text(fx, fy, m, fontsize=9, ha='left', va='center')

fig.savefig("out.png", dpi=100, facecolor="white")
